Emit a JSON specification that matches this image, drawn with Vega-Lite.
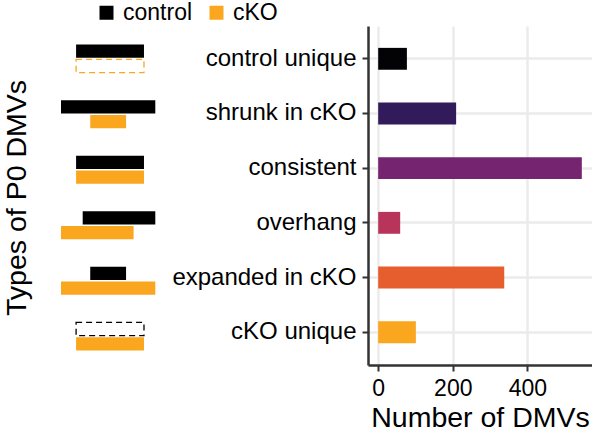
{
  "$schema": "https://vega.github.io/schema/vega-lite/v6.json",
  "padding": {"left": 2, "top": 1, "right": 0, "bottom": 0},
  "bounds": "flush",
  "spacing": 212,
  "background": "white",
  "config": {
    "font": "Liberation Sans",
    "view": {"stroke": null},
    "axis": {"labelFont": "Liberation Sans", "titleFont": "Liberation Sans", "titleFontWeight": "normal", "labelColor": "black", "titleColor": "black"}
  },
  "datasets": {
    "counts": [
      {"type": "control unique", "n": 77},
      {"type": "shrunk in cKO", "n": 209},
      {"type": "consistent", "n": 546},
      {"type": "overhang", "n": 59},
      {"type": "expanded in cKO", "n": 338},
      {"type": "cKO unique", "n": 101}
    ],
    "schema": [
      {"type": "control unique", "sample": "control", "start": 16, "end": 88, "style": "solid"},
      {"type": "control unique", "sample": "cKO", "start": 16, "end": 88, "style": "dashed"},
      {"type": "shrunk in cKO", "sample": "control", "start": 0, "end": 100, "style": "solid"},
      {"type": "shrunk in cKO", "sample": "cKO", "start": 31, "end": 69, "style": "solid"},
      {"type": "consistent", "sample": "control", "start": 16, "end": 88, "style": "solid"},
      {"type": "consistent", "sample": "cKO", "start": 16, "end": 88, "style": "solid"},
      {"type": "overhang", "sample": "control", "start": 23, "end": 100, "style": "solid"},
      {"type": "overhang", "sample": "cKO", "start": 0, "end": 77, "style": "solid"},
      {"type": "expanded in cKO", "sample": "control", "start": 31, "end": 69, "style": "solid"},
      {"type": "expanded in cKO", "sample": "cKO", "start": 0, "end": 100, "style": "solid"},
      {"type": "cKO unique", "sample": "control", "start": 16, "end": 88, "style": "dashed"},
      {"type": "cKO unique", "sample": "cKO", "start": 16, "end": 88, "style": "solid"}
    ]
  },
  "resolve": {"scale": {"x": "independent", "y": "independent", "color": "independent"}},
  "hconcat": [
    {
      "width": 94.3,
      "height": 343,
      "data": {"name": "schema"},
      "encoding": {
        "x": {"field": "start", "type": "quantitative", "scale": {"domain": [0, 100], "nice": false, "zero": false}, "axis": null},
        "x2": {"field": "end"},
        "y": {
          "field": "type", "type": "nominal",
          "sort": ["control unique", "shrunk in cKO", "consistent", "overhang", "expanded in cKO", "cKO unique"],
          "scale": {"paddingInner": 0.496, "paddingOuter": 0.335},
          "axis": {"title": "Types of P0 DMVs", "labels": false, "ticks": false, "domain": false, "grid": false, "titleFontSize": 28.5, "titlePadding": 30}
        },
        "yOffset": {"field": "sample", "type": "nominal", "sort": ["control", "cKO"], "scale": {"paddingInner": 0.1, "paddingOuter": 0}}
      },
      "layer": [
        {
          "transform": [{"filter": "datum.style === 'solid'"}],
          "mark": {"type": "bar"},
          "encoding": {
            "color": {
              "field": "sample", "type": "nominal",
              "scale": {"domain": ["control", "cKO"], "range": ["#000000", "#FAA61E"]},
              "legend": {"orient": "none", "legendX": 34, "legendY": -25, "direction": "horizontal", "title": null, "symbolType": "square", "symbolSize": 196, "symbolStrokeWidth": 0, "symbolOpacity": 1, "labelFontSize": 23, "labelColor": "black", "labelOffset": 5, "columnPadding": 12, "padding": 0}
            }
          }
        },
        {
          "transform": [{"filter": "datum.style === 'dashed'"}],
          "mark": {"type": "bar", "fill": "white", "strokeDash": [6, 4], "strokeWidth": 1.3},
          "encoding": {
            "stroke": {
              "field": "sample", "type": "nominal",
              "scale": {"domain": ["control", "cKO"], "range": ["#000000", "#FAA61E"]},
              "legend": null
            }
          }
        }
      ]
    },
    {
      "width": 224,
      "height": 339,
      "data": {"name": "counts"},
      "mark": {"type": "bar"},
      "encoding": {
        "y": {
          "field": "type", "type": "nominal",
          "sort": ["control unique", "shrunk in cKO", "consistent", "overhang", "expanded in cKO", "cKO unique"],
          "scale": {"paddingInner": 0.6, "paddingOuter": 0.4},
          "axis": {"title": null, "labelFontSize": 24, "labelLimit": 0, "labelPadding": 6, "tickSize": 6, "tickWidth": 2, "tickColor": "#333333", "domainColor": "#333333", "domainWidth": 2.5, "grid": true, "gridColor": "#EBEBEB", "gridWidth": 2.5, "bandPosition": 0.5}
        },
        "x": {
          "field": "n", "type": "quantitative",
          "scale": {"domain": [-27.3, 573.3], "nice": false, "zero": false},
          "axis": {"values": [0, 200, 400], "title": "Number of DMVs", "titleFontSize": 28.5, "titlePadding": 3, "labelFontSize": 23, "labelPadding": 6, "tickSize": 6, "tickWidth": 2, "tickColor": "#333333", "domainColor": "#333333", "domainWidth": 2.5, "grid": true, "gridColor": "#EBEBEB", "gridWidth": 2.5}
        },
        "color": {
          "field": "type", "type": "nominal",
          "scale": {"domain": ["control unique", "shrunk in cKO", "consistent", "overhang", "expanded in cKO", "cKO unique"], "range": ["#030305", "#321B5A", "#75246F", "#B8345A", "#E75E2E", "#FAA61E"]},
          "legend": null
        }
      }
    }
  ]
}
